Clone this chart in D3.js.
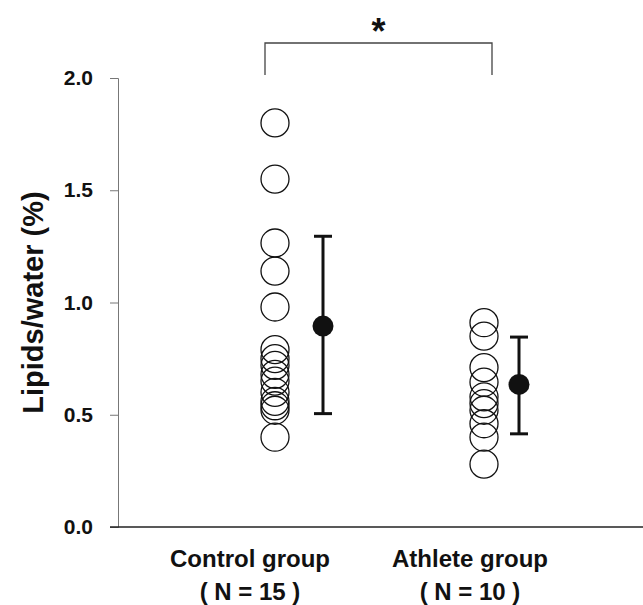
<!DOCTYPE html>
<html>
<head>
<meta charset="utf-8">
<script src="https://cdn.jsdelivr.net/npm/d3@7"></script>
<style>
  body { margin: 0; background: #fff; }
  text { font-family: Arial, "Liberation Sans", sans-serif; font-weight: bold; fill: #111; }
</style>
</head>
<body>
<div id="chart"></div>
<script>
const groups = ['Control group', 'Athlete group'];
const groupN = ['( N = 15 )', '( N = 10 )'];
const controlValues = [1.80, 1.55, 1.265, 1.14, 0.98, 0.79, 0.75, 0.72, 0.68, 0.65, 0.60, 0.56, 0.54, 0.52, 0.40];
const athleteValues = [0.91, 0.85, 0.71, 0.645, 0.58, 0.55, 0.52, 0.46, 0.40, 0.28];
const means = [0.895, 0.635];
const sdLow = [0.505, 0.415];
const sdHigh = [1.295, 0.846];
const yTicks = [0, 0.5, 1.0, 1.5, 2.0];

const width = 643, height = 605;
const svg = d3.select('#chart').append('svg')
    .attr('width', width)
    .attr('height', height);

const y = d3.scaleLinear().domain([0, 2]).range([527, 78]);
const x = d3.scalePoint().domain(groups).range([250, 470]);

// column offsets from the group centre (raw points / mean+SD)
const dotOffset = [25, 14];
const meanOffset = [73, 49];

// y axis
const yAxis = svg.append('g')
    .attr('transform', 'translate(118,0)')
    .call(d3.axisLeft(y).tickValues(yTicks).tickFormat(d3.format('.1f')).tickSize(8).tickPadding(17));
yAxis.select('.domain').attr('stroke', '#777').attr('stroke-width', 1);
yAxis.selectAll('.tick line').attr('stroke', '#777');
yAxis.selectAll('.tick text')
    .style('font-size', '21px')
    .style('font-family', 'Arial, "Liberation Sans", sans-serif')
    .style('font-weight', 'bold')
    .attr('fill', '#111');

// x axis line
svg.append('line')
    .attr('x1', 110).attr('x2', 643)
    .attr('y1', y(0)).attr('y2', y(0))
    .attr('stroke', '#222')
    .attr('stroke-width', 1.5);

svg.append('text')
    .attr('transform', 'translate(43,' + y(1.0) + ') rotate(-90)')
    .attr('text-anchor', 'middle')
    .style('font-size', '29px')
    .text('Lipids/water (%)');

// group labels
const labels = svg.append('g').selectAll('g')
    .data(groups)
    .enter().append('g')
    .attr('transform', d => 'translate(' + x(d) + ',0)');
labels.append('text')
    .attr('y', 567)
    .attr('text-anchor', 'middle')
    .style('font-size', '24px')
    .text(d => d);
labels.append('text')
    .attr('y', 600)
    .attr('text-anchor', 'middle')
    .style('font-size', '24px')
    .text((d, i) => groupN[i]);

// raw points
const series = [controlValues, athleteValues];
series.forEach((vals, i) => {
    svg.append('g').selectAll('circle')
        .data(vals)
        .enter().append('circle')
        .attr('cx', x(groups[i]) + dotOffset[i])
        .attr('cy', d => y(d))
        .attr('r', 14)
        .attr('fill', 'none')
        .attr('stroke', '#111')
        .attr('stroke-width', 1.3);
});

// mean +/- SD
const summary = svg.append('g').selectAll('g')
    .data(groups)
    .enter().append('g')
    .attr('transform', (d, i) => 'translate(' + (x(d) + meanOffset[i]) + ',0)');
summary.append('line')
    .attr('y1', (d, i) => y(sdLow[i]))
    .attr('y2', (d, i) => y(sdHigh[i]))
    .attr('stroke', '#111').attr('stroke-width', 3);
summary.append('line')
    .attr('x1', -9).attr('x2', 9)
    .attr('y1', (d, i) => y(sdHigh[i])).attr('y2', (d, i) => y(sdHigh[i]))
    .attr('stroke', '#111').attr('stroke-width', 3);
summary.append('line')
    .attr('x1', -9).attr('x2', 9)
    .attr('y1', (d, i) => y(sdLow[i])).attr('y2', (d, i) => y(sdLow[i]))
    .attr('stroke', '#111').attr('stroke-width', 3);
summary.append('circle')
    .attr('cy', (d, i) => y(means[i]))
    .attr('r', 10.5)
    .attr('fill', '#111');

// significance bracket
const bx1 = x(groups[0]) + 15, bx2 = x(groups[1]) + 22;
svg.append('path')
    .attr('d', 'M' + bx1 + ',75V43H' + bx2 + 'V75')
    .attr('fill', 'none')
    .attr('stroke', '#444')
    .attr('stroke-width', 1.3);
svg.append('text')
    .attr('x', (bx1 + bx2) / 2)
    .attr('y', 44)
    .attr('text-anchor', 'middle')
    .style('font-size', '36px')
    .text('*');
</script>
</body>
</html>
